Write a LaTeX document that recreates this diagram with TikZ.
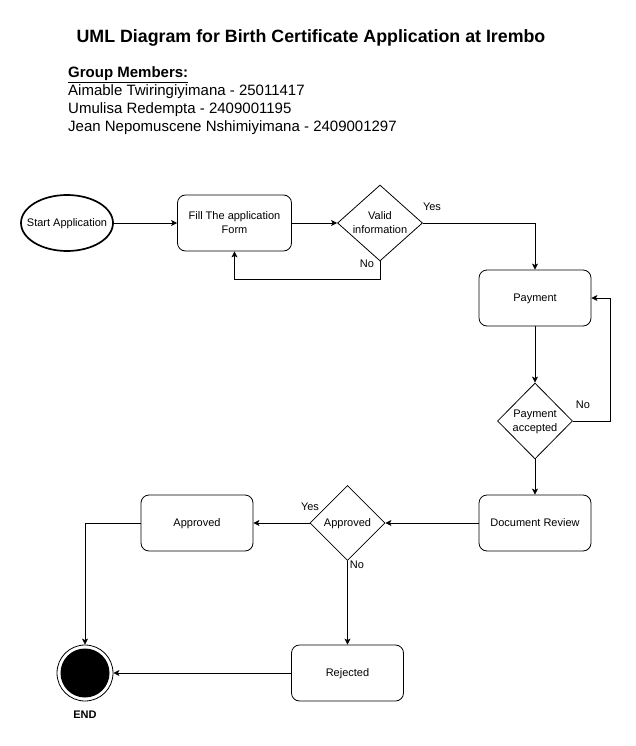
\documentclass[tikz,border=0pt]{standalone}
\usepackage{fontspec}
\setmainfont{Liberation Sans}
\usetikzlibrary{shapes.geometric,arrows.meta}
\begin{document}
\begin{tikzpicture}[x=1pt,y=-1pt,
  nodefont/.style={font=\fontsize{11}{14}\selectfont},
  box/.style={draw, rounded corners=8pt, minimum width=112pt, minimum height=56pt, align=center, nodefont, line width=0.8pt, text depth=0pt},
  dec/.style={draw, diamond, inner sep=0pt, align=center, nodefont, line width=0.8pt, text depth=0pt},
  lab/.style={font=\fontsize{11}{13}\selectfont, inner sep=0pt},
  member/.style={anchor=base west, inner sep=0pt, font=\fontsize{15}{18}\selectfont},
  arr/.style={-{Stealth[length=6pt,width=6pt,inset=1.5pt]}, line width=0.8pt},
  ln/.style={line width=0.8pt}]
\useasboundingbox (0,0) rectangle (635,746);
\fill[white] (0,0) rectangle (635,746);

% header
\node[anchor=base, inner sep=0pt, font=\bfseries\fontsize{17.8}{20}\selectfont] (title) at (311,43) {UML Diagram for Birth Certificate Application at Irembo};
\node[member, font=\bfseries\fontsize{15}{18}\selectfont] (grp) at (68,78) {\underline{Group Members:}};
\node[member] (m1) at (68,96) {Aimable Twiringiyimana - 25011417};
\node[member] (m2) at (68,114) {Umulisa Redempta - 2409001195};
\node[member] (m3) at (68,132) {Jean Nepomuscene Nshimiyimana - 2409001297};

% nodes
\node[ellipse, draw, line width=1.7pt, minimum width=92pt, minimum height=56pt, inner sep=0pt, nodefont, text depth=0pt] (start) at (67,223) {\makebox[0pt]{Start Application}};
\node[box, minimum width=114pt] (fill) at (234.5,223) {Fill The application\\Form};
\node[dec, aspect=1.12, minimum width=85pt, minimum height=76pt] (valid) at (380,223) {Valid\\information};
\node[box] (pay) at (535,298) {Payment};
\node[dec, aspect=1, minimum width=75pt, minimum height=76pt] (pacc) at (535,421) {Payment\\accepted};
\node[box] (doc) at (535,523) {Document Review};
\node[dec, aspect=1, minimum width=75pt, minimum height=75pt] (appd) at (347.5,523) {Approved};
\node[box] (appbox) at (197,523) {Approved};
\node[box] (rej) at (347.5,673) {Rejected};
\node[circle, draw, line width=0.8pt, minimum size=56pt, inner sep=0pt] (end) at (85,673) {};
\fill (end.center) circle (24.5);
\node[lab, font=\bfseries\fontsize{11}{13}\selectfont] (endlab) at (85,715) {END};

% connectors
\draw[arr] (start) -- (fill);
\draw[arr] (fill) -- (valid);
\draw[arr] (valid.east) -| (pay.north);
\draw[arr] (valid.south) -- ++(0,18) -| (fill.south);
\draw[arr] (pay) -- (pacc);
\draw[arr] (pacc.east) -- ++(37,0) |- (pay.east);
\draw[arr] (pacc) -- (doc);
\draw[arr] (doc) -- (appd);
\draw[arr] (appd) -- (appbox);
\draw[arr] (appbox.west) -| (end.north);
\draw[arr] (appd) -- (rej);
\draw[arr] (rej) -- (end);

% labels
\node[lab] (yes1) at (432,207) {Yes};
\node[lab] (no1) at (367,264) {No};
\node[lab] (no2) at (583,405) {No};
\node[lab] (yes2) at (310,507) {Yes};
\node[lab] (no3) at (357,565) {No};
\end{tikzpicture}
\end{document}
